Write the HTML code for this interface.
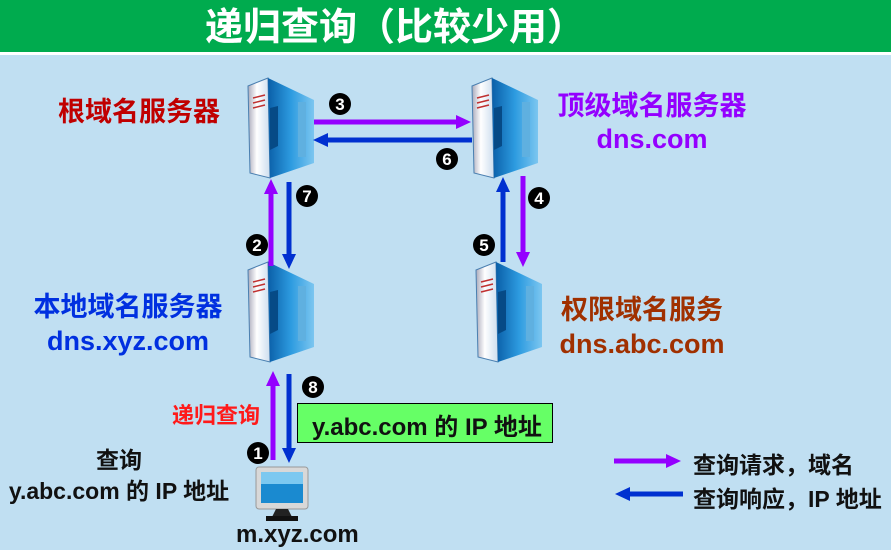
<!DOCTYPE html>
<html><head><meta charset="utf-8"><style>
body{margin:0;width:891px;height:550px;overflow:hidden;background:#c0dff2;font-family:"Liberation Sans","Noto Sans CJK SC",sans-serif;position:relative}
.t{position:absolute;font-weight:bold;white-space:nowrap}
</style></head><body>
<div style="position:absolute;left:0;top:0;width:891px;height:52px;background:#00ab4e"></div>
<div style="position:absolute;left:0;top:52px;width:891px;height:3px;background:#fff"></div>
<div class="t" style="left:205px;top:5px;font-size:38px;line-height:46px;color:#fff">递归查询（比较少用）</div>

<svg width="891" height="550" style="position:absolute;left:0;top:0">
<defs>
<linearGradient id="bl" x1="0" x2="1"><stop offset="0" stop-color="#0a5fa8"/><stop offset="0.5" stop-color="#2d9be0"/><stop offset="1" stop-color="#7cc6f0"/></linearGradient>
<linearGradient id="wh" x1="0" x2="1"><stop offset="0" stop-color="#aab"/><stop offset="0.4" stop-color="#fff"/><stop offset="1" stop-color="#cde"/></linearGradient>
<g id="srv">
<path d="M0 8 L20 0 L22 100 L2 95 Z" fill="url(#wh)" stroke="#4a7fb0" stroke-width="1"/>
<path d="M20 0 L66 22 L66 85 L22 100 Z" fill="url(#bl)"/>
<path d="M22 30 L30 28 L30 68 L22 72 Z" fill="#064a86"/>
<rect x="50" y="24" width="8" height="55" fill="#5fb0e0"/>
<path d="M5 20 L17 17 M5 25 L17 22 M5 30 L17 27" stroke="#c03030" stroke-width="1.5"/>
</g>
</defs>
<use href="#srv" x="248" y="78"/>
<use href="#srv" x="472" y="78"/>
<use href="#srv" x="248" y="262"/>
<use href="#srv" x="476" y="262"/>
<rect x="256" y="467" width="52" height="42" rx="3" fill="#d8d8d8" stroke="#999"/>
<rect x="261" y="472" width="42" height="31" fill="#1a8ad0"/>
<rect x="261" y="472" width="42" height="12" fill="#7cc8f0"/>
<path d="M276 509 L288 509 L292 517 L272 517 Z" fill="#222"/>
<rect x="266" y="516" width="32" height="5" fill="#111"/>
<g stroke-width="5" fill="none">
<line x1="314" y1="122" x2="458" y2="122" stroke="#9400ff"/>
<line x1="326" y1="140" x2="472" y2="140" stroke="#0030d0"/>
<line x1="271" y1="266" x2="271" y2="192" stroke="#9400ff"/>
<line x1="289" y1="182" x2="289" y2="256" stroke="#0030d0"/>
<line x1="523" y1="176" x2="523" y2="254" stroke="#9400ff"/>
<line x1="503" y1="262" x2="503" y2="190" stroke="#0030d0"/>
<line x1="273" y1="460" x2="273" y2="384" stroke="#9400ff"/>
<line x1="289" y1="374" x2="289" y2="450" stroke="#0030d0"/>
<line x1="614" y1="461" x2="668" y2="461" stroke="#9400ff"/>
<line x1="628" y1="494" x2="683" y2="494" stroke="#0030d0"/>
</g>
<g>
<path d="M456 115 L471 122 L456 129Z" fill="#9400ff"/>
<path d="M328 133 L313 140 L328 147Z" fill="#0030d0"/>
<path d="M264 194 L271 179 L278 194Z" fill="#9400ff"/>
<path d="M282 254 L289 269 L296 254Z" fill="#0030d0"/>
<path d="M516 252 L523 267 L530 252Z" fill="#9400ff"/>
<path d="M496 192 L503 177 L510 192Z" fill="#0030d0"/>
<path d="M266 386 L273 371 L280 386Z" fill="#9400ff"/>
<path d="M282 448 L289 463 L296 448Z" fill="#0030d0"/>
<path d="M666 454 L681 461 L666 468Z" fill="#9400ff"/>
<path d="M630 487 L615 494 L630 501Z" fill="#0030d0"/>
</g>
<g font-family="Liberation Sans,sans-serif" font-weight="bold" font-size="17" fill="#fff" text-anchor="middle">
<circle cx="340" cy="104" r="11" fill="#000"/><text x="340" y="110">3</text>
<circle cx="447" cy="159" r="11" fill="#000"/><text x="447" y="165">6</text>
<circle cx="307" cy="196" r="11" fill="#000"/><text x="307" y="202">7</text>
<circle cx="257" cy="245" r="11" fill="#000"/><text x="257" y="251">2</text>
<circle cx="539" cy="198" r="11" fill="#000"/><text x="539" y="204">4</text>
<circle cx="484" cy="245" r="11" fill="#000"/><text x="484" y="251">5</text>
<circle cx="313" cy="387" r="11" fill="#000"/><text x="313" y="393">8</text>
<circle cx="258" cy="453" r="11" fill="#000"/><text x="258" y="459">1</text>
</g>
</svg>

<div class="t" style="left:58px;top:95px;font-size:27px;line-height:34px;color:#c00000">根域名服务器</div>
<div class="t" style="left:552px;top:90px;width:200px;font-size:27px;color:#9400ff;text-align:center;line-height:33px">顶级域名服务器<br>dns.com</div>
<div class="t" style="left:27px;top:290px;width:202px;font-size:27px;color:#0030e0;text-align:center;line-height:34px">本地域名服务器<br>dns.xyz.com</div>
<div class="t" style="left:553px;top:293px;width:178px;font-size:27px;color:#a03000;text-align:center;line-height:34px">权限域名服务<br>dns.abc.com</div>
<div class="t" style="left:172px;top:398px;font-size:22px;color:#ff1a1a">递归查询</div>
<div style="position:absolute;left:297px;top:403px;width:254px;height:38px;background:#66ff66;border:1px solid #000"></div>
<div class="t" style="left:312px;top:407px;font-size:24px;color:#111">y.abc.com 的 IP 地址</div>
<div class="t" style="left:0;width:238px;top:445px;font-size:23px;color:#111;text-align:center;line-height:31px">查询<br>y.abc.com 的 IP 地址</div>
<div class="t" style="left:236px;top:521px;font-size:24px;color:#111">m.xyz.com</div>
<div class="t" style="left:693px;top:446px;font-size:23px;color:#111">查询请求，域名</div>
<div class="t" style="left:693px;top:480px;font-size:23px;color:#111">查询响应，IP 地址</div>
</body></html>
